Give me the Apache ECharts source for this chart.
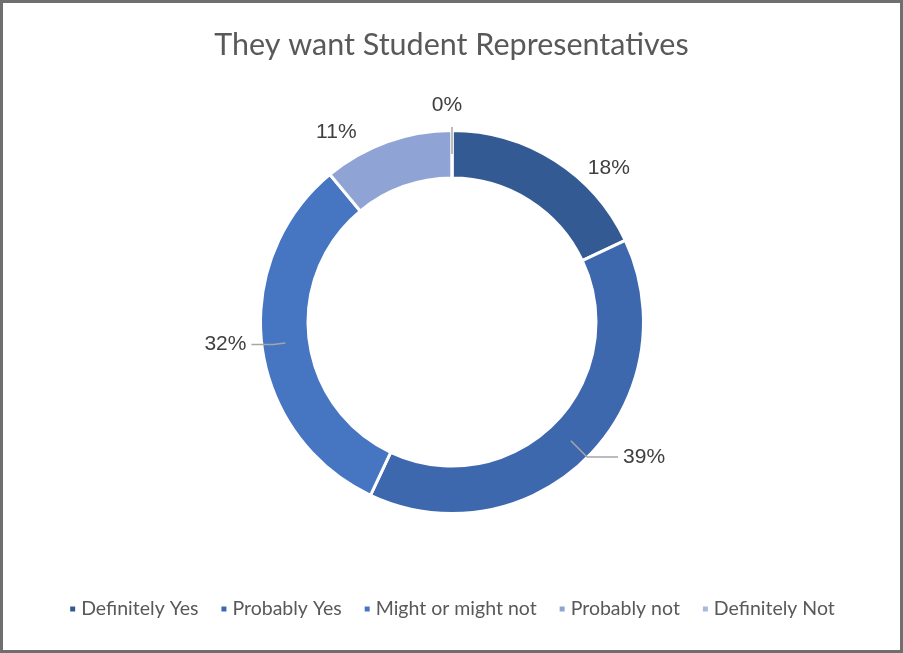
<!DOCTYPE html>
<html>
<head>
<meta charset="utf-8">
<script src="https://cdn.jsdelivr.net/npm/echarts@6/dist/echarts.min.js"></script>
<style>
  html, body { margin: 0; padding: 0; background: #fff; }
  #wrap { position: relative; width: 903px; height: 653px; }
  #chart { position: absolute; left: 0; top: 0; width: 903px; height: 653px; }
  #frame { position: absolute; left: 0; top: 0; width: 903px; height: 653px; box-sizing: border-box;
           border: 3px solid #6f6f6f; pointer-events: none; }
</style>
</head>
<body>
<div id="wrap"><div id="chart"></div><div id="frame"></div></div>
<script>
const titleText = 'They want Student Representatives';
const categories = ['Definitely Yes', 'Probably Yes', 'Might or might not', 'Probably not', 'Definitely Not'];
const values = [18, 39, 32, 11, 0];
const colors = ['#335a92', '#3e68ae', '#4675c2', '#8fa3d4', '#a8b8df'];
// label placement tuning (leader line lengths) per category
const lineLen1 = [14.5, 23, 12, 34, 27];
const lineLen2 = [33, 31, 22, 22, 0];
const showLine = [false, true, true, false, true];

const chart = echarts.init(document.getElementById('chart'), null, { renderer: 'canvas' });

const mainData = categories.map((c, i) => ({
  name: c, value: values[i], itemStyle: { color: colors[i] }
}));
const labelData = categories.map((c, i) => ({
  name: c, value: values[i],
  itemStyle: { color: 'transparent', borderWidth: 0 },
  label: i === 4 ? { formatter: '{d}%\n ', lineHeight: 44 } : {},
  labelLine: { show: showLine[i], length: lineLen1[i], length2: lineLen2[i] }
}));

chart.setOption({
  animation: false,
  backgroundColor: '#ffffff',
  title: {
    text: titleText,
    left: 'center',
    top: 25,
    textStyle: { fontFamily: 'Lato', fontSize: 30.5, fontWeight: 'normal', color: '#595959' }
  },
  legend: {
    data: categories,
    top: 594,
    left: 'center',
    icon: 'rect',
    itemWidth: 7,
    itemHeight: 7,
    itemGap: 21,
    textStyle: { fontFamily: 'Lato', fontSize: 19.5, color: '#595959' },
    selectedMode: false
  },
  series: [
    {
      type: 'pie',
      z: 2,
      center: [452, 322],
      radius: [144, 191.5],
      startAngle: 90,
      clockwise: true,
      silent: true,
      label: { show: false },
      labelLine: { show: false },
      itemStyle: { borderColor: '#ffffff', borderWidth: 3 },
      data: mainData
    },
    {
      type: 'pie',
      z: 5,
      center: [452, 322],
      radius: [144, 168],
      startAngle: 90,
      clockwise: true,
      silent: true,
      avoidLabelOverlap: false,
      legendHoverLink: false,
      label: {
        show: true,
        position: 'outside',
        formatter: '{d}%',
        fontFamily: 'Liberation Sans',
        fontSize: 21,
        color: '#404040'
      },
      labelLine: { lineStyle: { color: '#a6a6a6', width: 1.5 } },
      labelLayout: function (p) {
        return p.dataIndex === 4 ? { align: 'center' } : {};
      },
      data: labelData
    }
  ]
});
</script>
</body>
</html>
